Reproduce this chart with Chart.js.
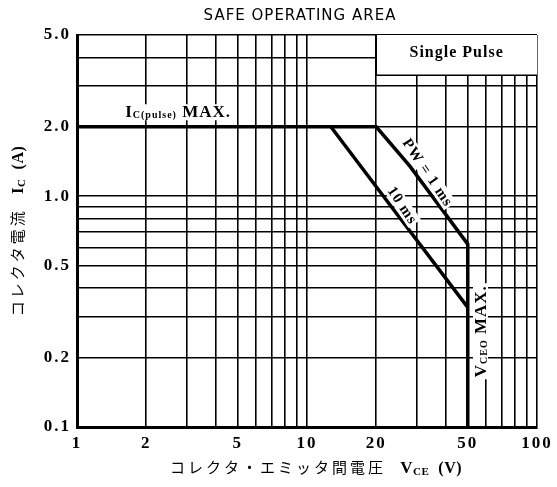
<!DOCTYPE html>
<html>
<head>
<meta charset="utf-8">
<script src="https://cdn.jsdelivr.net/npm/chart.js@4.4.1/dist/chart.umd.min.js"></script>
<style>
  html, body { margin: 0; padding: 0; background: #fff; }
</style>
</head>
<body>
<canvas id="chart" width="557" height="487"></canvas>
<script>
// grid / tick values
const xGrid = [1, 2, 3, 4, 5, 6, 7, 8, 9, 10, 20, 30, 40, 50, 60, 70, 80, 90, 100];
const xLabels = [1, 2, 5, 10, 20, 50, 100];
const yGrid = [0.1, 0.2, 0.3, 0.4, 0.5, 0.6, 0.7, 0.8, 0.9, 1, 2, 3, 4, 5];
const yLabels = [0.1, 0.2, 0.5, 1, 2, 5];

// PW = 1 ms boundary (with Ic(pulse) max and VCEO max)
const vce1ms = [1, 20, 28, 50, 50];
const ic1ms = [2.0, 2.0, 1.35, 0.62, 0.1];
// 10 ms boundary
const vce10ms = [12.7, 20, 50];
const ic10ms = [2.0, 1.1, 0.33];

const SERIF = '"Liberation Serif", "DejaVu Serif", serif';
const JP = '"Noto Sans CJK JP", sans-serif';

// draw text made of several runs (for subscripts)
function drawRuns(ctx, runs, x, y, align, bg) {
    const base = ctx.letterSpacing;
    let w = 0;
    runs.forEach(r => {
        ctx.font = r.font;
        ctx.letterSpacing = r.ls || base;
        r.w = ctx.measureText(r.t).width;
        w += r.w;
    });
    let cx = align === 'center' ? x - w / 2 : x;
    if (bg) {
        ctx.fillStyle = '#fff';
        ctx.fillRect(cx - bg[0], y - bg[1], w + 2 * bg[0], bg[1] + bg[2]);
    }
    ctx.fillStyle = '#000';
    ctx.textAlign = 'left';
    ctx.textBaseline = 'alphabetic';
    runs.forEach(r => {
        ctx.font = r.font;
        ctx.letterSpacing = r.ls || base;
        ctx.fillText(r.t, cx, y + (r.dy || 0));
        cx += r.w;
    });
    ctx.letterSpacing = base;
}

const sopLabels = {
    id: 'sopLabels',
    beforeLayout(chart) { chart.ctx.letterSpacing = '2px'; },
    beforeDraw(chart) { chart.ctx.letterSpacing = '2px'; },
    beforeDatasetsDraw(chart) {
        // "Single Pulse" box sits on top of the grid
        const { ctx, chartArea, scales } = chart;
        const x0 = scales.x.getPixelForValue(20);
        const y1 = scales.y.getPixelForValue(3.35);
        ctx.save();
        ctx.fillStyle = '#fff';
        ctx.fillRect(x0, chartArea.top, chartArea.right - x0, y1 - chartArea.top);
        ctx.strokeStyle = '#000';
        ctx.lineWidth = 1.5;
        ctx.beginPath();
        ctx.moveTo(x0, chartArea.top);
        ctx.lineTo(x0, y1);
        ctx.lineTo(chartArea.right, y1);
        ctx.stroke();
        ctx.letterSpacing = '1px';
        drawRuns(ctx, [{ t: 'Single Pulse', font: 'bold 16px ' + SERIF }],
            (x0 + chartArea.right) / 2, chartArea.top + 22, 'center');
        ctx.restore();
    },
    afterDatasetsDraw(chart) {
        const { ctx, scales } = chart;
        const px = v => scales.x.getPixelForValue(v);
        const py = v => scales.y.getPixelForValue(v);
        ctx.save();
        ctx.letterSpacing = '1px';

        drawRuns(ctx, [
            { t: 'I', font: 'bold 17px ' + SERIF },
            { t: 'C(pulse)', font: 'bold 10px ' + SERIF, dy: 1 },
            { t: ' MAX.', font: 'bold 17px ' + SERIF }
        ], px(1.62), py(2.2), 'left', [2, 13, 3]);

        // PW = 1 ms
        ctx.save();
        ctx.translate(px(33.6), py(1.27));
        ctx.rotate(56 * Math.PI / 180);
        drawRuns(ctx, [{ t: 'PW = 1 ms', font: 'bold 15px ' + SERIF }], 0, 5, 'center', [1, 12, 3]);
        ctx.restore();

        // 10 ms
        ctx.save();
        ctx.translate(px(26.1), py(0.915));
        ctx.rotate(56 * Math.PI / 180);
        drawRuns(ctx, [{ t: '10 ms', font: 'bold 15px ' + SERIF }], 0, 5, 'center', [1, 12, 3]);
        ctx.restore();

        // VCEO MAX.
        ctx.save();
        ctx.translate(px(56.5), py(0.26));
        ctx.rotate(-Math.PI / 2);
        drawRuns(ctx, [
            { t: 'V', font: 'bold 17px ' + SERIF },
            { t: 'CEO', font: 'bold 10px ' + SERIF, dy: 1 },
            { t: ' MAX.', font: 'bold 17px ' + SERIF }
        ], 0, 6, 'center', [2, 13, 2]);
        ctx.restore();
        ctx.restore();
    },
    afterDraw(chart) {
        const { ctx, chartArea } = chart;
        ctx.save();
        // title
        ctx.letterSpacing = '1px';
        drawRuns(ctx, [{ t: 'SAFE OPERATING AREA', font: '15px "DejaVu Sans", sans-serif' }],
            300, 20, 'center');
        // x axis title
        ctx.letterSpacing = '0.5px';
        drawRuns(ctx, [
            { t: 'コレクタ・エミッタ間電圧', font: '15px ' + JP, ls: '3px' },
            { t: '   V', font: 'bold 17px ' + SERIF },
            { t: 'CE', font: 'bold 11px ' + SERIF, dy: 2 },
            { t: '  (V)', font: 'bold 16px ' + SERIF }
        ], 316, 473, 'center');
        // y axis title
        ctx.translate(23, (chartArea.top + chartArea.bottom) / 2);
        ctx.rotate(-Math.PI / 2);
        drawRuns(ctx, [
            { t: 'コレクタ電流', font: '15px ' + JP, ls: '3px' },
            { t: '   I', font: 'bold 17px ' + SERIF },
            { t: 'C', font: 'bold 11px ' + SERIF, dy: 2 },
            { t: '  (A)', font: 'bold 16px ' + SERIF }
        ], 0, 0, 'center');
        ctx.restore();
    }
};

const line = (xs, ys) => xs.map((v, i) => ({ x: v, y: ys[i] }));

new Chart(document.getElementById('chart'), {
    type: 'scatter',
    data: {
        datasets: [
            { label: 'PW = 1 ms', data: line(vce1ms, ic1ms), showLine: true,
              borderColor: '#000', borderWidth: 3.5, pointRadius: 0, tension: 0 },
            { label: '10 ms', data: line(vce10ms, ic10ms), showLine: true,
              borderColor: '#000', borderWidth: 3.5, pointRadius: 0, tension: 0 }
        ]
    },
    options: {
        responsive: false,
        devicePixelRatio: 1,
        animation: false,
        layout: { padding: { top: 35, right: 20, left: 0, bottom: 0 } },
        plugins: { legend: { display: false }, tooltip: { enabled: false } },
        scales: {
            x: {
                type: 'logarithmic', min: 1, max: 100,
                afterBuildTicks: s => { s.ticks = xGrid.map(v => ({ value: v })); },
                afterFit: s => { s.height = 60; s.paddingLeft = 0; s.paddingRight = 0; },
                grid: { color: '#000', lineWidth: 1.6, drawTicks: false },
                border: { color: '#000', width: 3 },
                ticks: {
                    autoSkip: false, maxRotation: 0, padding: 6, color: '#000',
                    font: { family: SERIF, size: 17, weight: 'bold' },
                    callback: v => xLabels.includes(v) ? String(v) : ''
                }
            },
            y: {
                type: 'logarithmic', min: 0.1, max: 5,
                afterBuildTicks: s => { s.ticks = yGrid.map(v => ({ value: v })); },
                afterFit: s => { s.width = 77; s.paddingTop = 0; s.paddingBottom = 0; },
                grid: { color: '#000', lineWidth: 1.6, drawTicks: false },
                border: { color: '#000', width: 3 },
                ticks: {
                    autoSkip: false, padding: 6, color: '#000',
                    font: { family: SERIF, size: 17, weight: 'bold' },
                    callback: v => yLabels.includes(v) ? v.toFixed(1) : ''
                }
            }
        }
    },
    plugins: [sopLabels]
});
</script>
</body>
</html>
